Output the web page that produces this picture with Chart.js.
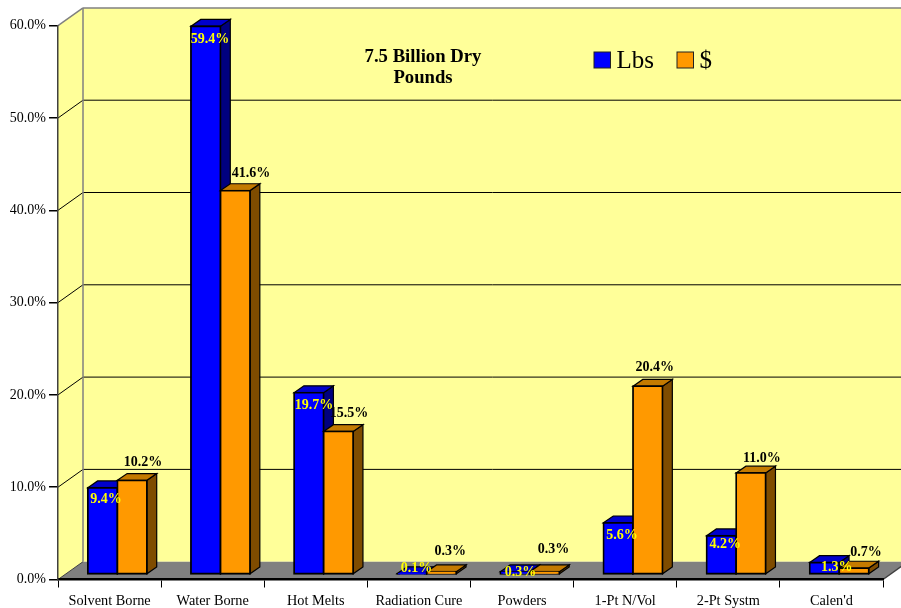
<!DOCTYPE html>
<html>
<head>
<meta charset="utf-8">
<title>Adhesive volume and value by technology</title>
<style>
  html, body { margin: 0; padding: 0; background: #fff; }
  canvas { display: block; }
</style>
<script src="https://cdn.jsdelivr.net/npm/chart.js@4"></script>
</head>
<body>
<canvas id="graphicShare" width="901" height="608"></canvas>
<script>
var categories = ['Solvent Borne', 'Water Borne', 'Hot Melts', 'Radiation Cure', 'Powders', '1-Pt N/Vol', '2-Pt Systm', "Calen'd"];
var lbsShare = [9.4, 59.4, 19.7, 0.1, 0.3, 5.6, 4.2, 1.3];
var dollarShare = [10.2, 41.6, 15.5, 0.3, 0.3, 20.4, 11.0, 0.7];
var titleLines = ['7.5 Billion Dry', 'Pounds'];

var SERIF = '"Liberation Serif", "Times New Roman", serif';

// depth of the whole box, and where the bars sit inside it
var WALL_DX = 25, WALL_DY = -17.8;
var BAR_DX = 7.8, BAR_DY = -5;
var SIDE_DX = 9.8, SIDE_DY = -6.8;

// hand placed value labels, offset from the middle of the top of each bar
var labelOffsets = [
	{
		x: [3.5, 4.3, 5.2, 4.6, 5.5, 3.8, 3.8, 12.4],
		y: [12, 13.5, 13, -5.2, 0.7, 13, 9, 5]
	},
	{
		x: [10.9, 15.7, 10.6, 8.8, 8.9, 6.9, 11, 11.9],
		y: [-18, -17, -17.6, -20.3, -22.7, -18.5, -15, -15.6]
	}
];

var faceColors = [
	{ top: '#0000cc', side: '#00007f' },
	{ top: '#c47a00', side: '#7f4c00' }
];

function polygon(ctx, points, fill, stroke, lineWidth) {
	ctx.beginPath();
	ctx.moveTo(points[0][0], points[0][1]);
	for (var i = 1; i < points.length; i++) {
		ctx.lineTo(points[i][0], points[i][1]);
	}
	ctx.closePath();
	if (fill) {
		ctx.fillStyle = fill;
		ctx.fill();
	}
	if (stroke) {
		ctx.strokeStyle = stroke;
		ctx.lineWidth = lineWidth || 1;
		ctx.stroke();
	}
}

function line(ctx, x1, y1, x2, y2, color, width) {
	ctx.beginPath();
	ctx.moveTo(x1, y1);
	ctx.lineTo(x2, y2);
	ctx.strokeStyle = color;
	ctx.lineWidth = width;
	ctx.stroke();
}

// walls, floor and grid behind the bars
var boxPlugin = {
	id: 'box',
	beforeDraw: function(chart) {
		var ctx = chart.ctx, area = chart.chartArea, y = chart.scales.y;
		var farLeft = area.left + WALL_DX, farRight = area.right + WALL_DX;
		var top = area.top, bottom = area.bottom;

		ctx.save();
		ctx.fillStyle = '#fff';
		ctx.fillRect(0, 0, chart.width, chart.height);

		polygon(ctx, [[farLeft, top + WALL_DY], [farRight, top + WALL_DY], [farRight, bottom + WALL_DY], [farLeft, bottom + WALL_DY]], '#ffff99');
		polygon(ctx, [[area.left, top], [farLeft, top + WALL_DY], [farLeft, bottom + WALL_DY], [area.left, bottom]], '#ffff99');

		y.ticks.forEach(function(tick) {
			var py = y.getPixelForValue(tick.value);
			if (tick.value === 0 || tick.value === 60) {
				return;
			}
			line(ctx, area.left, py, farLeft, py + WALL_DY, '#000', 1);
			line(ctx, farLeft, py + WALL_DY, farRight, py + WALL_DY, '#000', 1);
		});

		polygon(ctx, [[area.left, bottom], [farLeft, bottom + WALL_DY], [farRight, bottom + WALL_DY], [area.right, bottom]], '#808080');
		line(ctx, area.left, bottom, farLeft, bottom + WALL_DY, '#404040', 1);
		line(ctx, area.right, bottom, farRight, bottom + WALL_DY, '#404040', 1.5);

		line(ctx, area.left, top, farLeft, top + WALL_DY, '#808080', 1.5);
		line(ctx, farLeft, top + WALL_DY, farRight, top + WALL_DY, '#808080', 1.5);
		line(ctx, farLeft, top + WALL_DY, farLeft, bottom + WALL_DY, '#808080', 1.5);
		ctx.restore();
	},
	// Chart.js paints the last dataset first, but here the right hand bar has to
	// cover the side of the left one, so the bars are painted in order from here
	beforeDatasetsDraw: function(chart) {
		var ctx = chart.ctx;
		chart.data.datasets.forEach(function(dataset, d) {
			var meta = chart.getDatasetMeta(d);
			var colors = faceColors[d];
			ctx.save();
			ctx.translate(BAR_DX, BAR_DY);
			meta.data.forEach(function(bar) {
				var left = bar.x - bar.width / 2, right = bar.x + bar.width / 2;
				polygon(ctx, [[right, bar.y], [right + SIDE_DX, bar.y + SIDE_DY], [right + SIDE_DX, bar.base + SIDE_DY], [right, bar.base]], colors.side, '#000', 1.2);
				polygon(ctx, [[left, bar.y], [left + SIDE_DX, bar.y + SIDE_DY], [right + SIDE_DX, bar.y + SIDE_DY], [right, bar.y]], colors.top, '#000', 1.2);
			});
			meta.controller.draw();
			ctx.restore();
		});
		return false;
	},
	afterDraw: function(chart) {
		var ctx = chart.ctx;
		ctx.save();
		ctx.textAlign = 'center';
		ctx.textBaseline = 'middle';
		ctx.font = 'bold 14px ' + SERIF;
		chart.data.datasets.forEach(function(dataset, d) {
			var meta = chart.getDatasetMeta(d);
			ctx.fillStyle = d === 0 ? '#ffff00' : '#000';
			meta.data.forEach(function(bar, i) {
				ctx.fillText(dataset.data[i].toFixed(1) + '%',
					bar.x + BAR_DX + labelOffsets[d].x[i],
					bar.y + BAR_DY + labelOffsets[d].y[i]);
			});
		});

		// title
		ctx.font = 'bold 18.7px ' + SERIF;
		ctx.fillStyle = '#000';
		titleLines.forEach(function(text, i) {
			ctx.fillText(text, 423, 57.5 + i * 20.5);
		});

		// legend
		ctx.textAlign = 'left';
		ctx.font = '25px ' + SERIF;
		chart.data.datasets.forEach(function(dataset, d) {
			var x = d === 0 ? 594 : 677;
			ctx.fillStyle = dataset.backgroundColor;
			ctx.fillRect(x, 52, 16.5, 16);
			ctx.strokeStyle = '#222';
			ctx.lineWidth = 1;
			ctx.strokeRect(x, 52, 16.5, 16);
			ctx.fillStyle = '#000';
			ctx.fillText(dataset.label, x + 22.5, 61);
		});
		ctx.restore();
	}
};

var ctx = document.getElementById('graphicShare').getContext('2d');

var graphicShare = new Chart(ctx, {
	type: 'bar',
	data: {
		labels: categories,
		datasets: [{
			label: 'Lbs',
			data: lbsShare,
			backgroundColor: '#0000ff',
			borderColor: '#000',
			borderWidth: 1.8,
			inflateAmount: 0.9,
			borderSkipped: false
		}, {
			label: '$',
			data: dollarShare,
			backgroundColor: '#ff9900',
			borderColor: '#000',
			borderWidth: 1.8,
			inflateAmount: 0.9,
			borderSkipped: false
		}]
	},
	options: {
		responsive: false,
		animation: false,
		datasets: {
			bar: {
				categoryPercentage: 0.573,
				barPercentage: 1,
				clip: false
			}
		},
		layout: {
			padding: { top: 25.7, right: 18, left: 0, bottom: 0 }
		},
		plugins: {
			legend: { display: false },
			title: { display: false },
			tooltip: { enabled: false }
		},
		scales: {
			x: {
				grid: { drawOnChartArea: false, color: '#000', tickLength: 8, lineWidth: 1 },
				border: { color: '#000', width: 2.5 },
				ticks: {
					color: '#000',
					padding: 5,
					maxRotation: 0,
					autoSkip: false,
					font: { family: SERIF, size: 14.3 }
				},
				afterFit: function(scale) {
					scale.height = 28.5;
				}
			},
			y: {
				min: 0,
				max: 60,
				grid: { drawOnChartArea: false, color: '#000', tickLength: 9, lineWidth: 1.5 },
				border: { color: '#404040', width: 1.5 },
				ticks: {
					stepSize: 10,
					color: '#000',
					padding: 3,
					font: { family: SERIF, size: 14 },
					callback: function(value) {
						return value.toFixed(1) + '%';
					}
				},
				afterFit: function(scale) {
					scale.width = 58;
				}
			}
		}
	},
	plugins: [boxPlugin]
});
</script>
</body>
</html>
